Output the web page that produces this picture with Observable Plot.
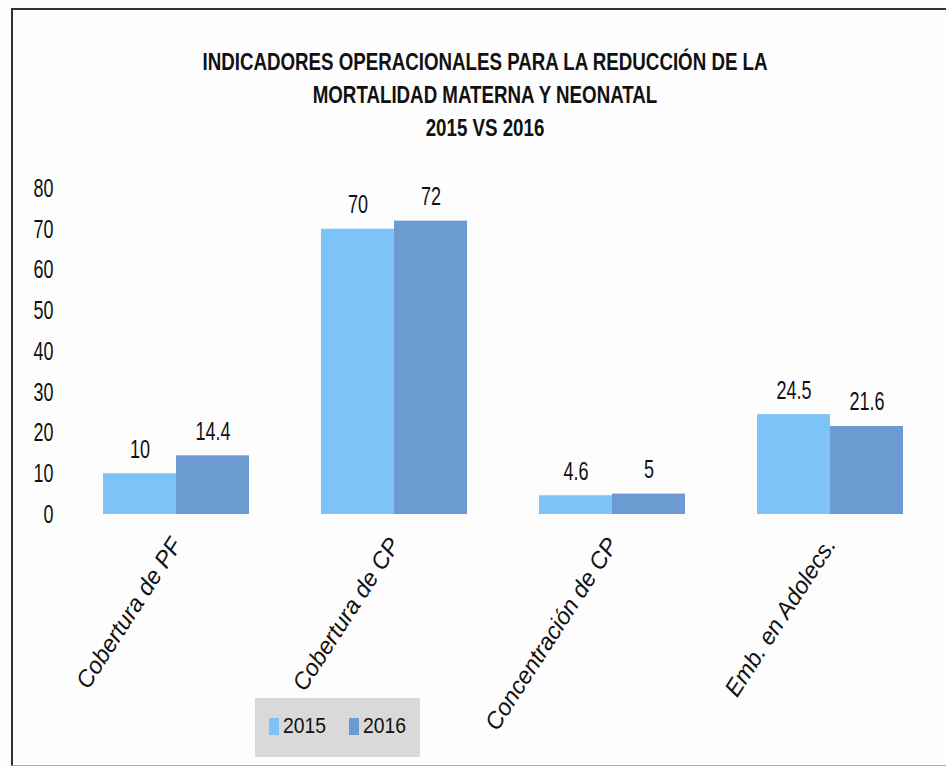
<!DOCTYPE html>
<html>
<head>
<meta charset="utf-8">
<script src="https://cdn.jsdelivr.net/npm/d3@7"></script>
<script src="https://cdn.jsdelivr.net/npm/@observablehq/plot@0.6"></script>
<style>
  html, body { margin: 0; padding: 0; background: #ffffff; }
  #wrap { position: relative; width: 946px; height: 768px; background: #fdfdfd; overflow: hidden;
          font-family: "Liberation Sans", Arial, sans-serif; }
  #frame { position: absolute; left: 11px; top: 8px; width: 940px; height: 758px;
           border-left: 2px solid #333; border-top: 2px solid #333; border-bottom: 1px solid #aaa; box-sizing: border-box; }
  #title { position: absolute; left: 24px; width: 922px; top: 45px; text-align: center;
           font-weight: bold; font-size: 24px; line-height: 33px; color: #111; transform-origin: 461px 0; white-space: nowrap; }
  #chart { position: absolute; left: 0; top: 0; }
  #legend { position: absolute; left: 255px; top: 698px; width: 165px; height: 59px; background: #d9d9d9;
            font-size: 22px; color: #111; }
  .sw { position: absolute; top: 20px; width: 10px; height: 17px; }
  .lt { position: absolute; top: 15px; line-height: 26px; transform: scaleX(0.88); transform-origin: 0 0; }
</style>
</head>
<body>
<div id="wrap">
  <div id="frame"></div>
  <div id="title"></div>
  <div id="chart"></div>
  <div id="legend"></div>
</div>
<script>
const titleLines = ["INDICADORES OPERACIONALES PARA LA REDUCCIÓN DE LA", "MORTALIDAD MATERNA Y NEONATAL", "2015 VS 2016"];
const categories = ["Cobertura de PF", "Cobertura de CP", "Concentración de CP", "Emb. en Adolecs."];
const years = ["2015", "2016"];
const values2015 = [10, 70, 4.6, 24.5];
const values2016 = [14.4, 72, 5, 21.6];
const colors = ["#7dc3f7", "#6b9bd1"];
const yTicks = [0, 10, 20, 30, 40, 50, 60, 70, 80];

// title, condensed horizontally to match the narrow lettering
const titleEl = document.getElementById("title");
titleLines.forEach(line => {
  const d = document.createElement("div");
  const s = document.createElement("span");
  s.textContent = line;
  d.appendChild(s);
  titleEl.appendChild(d);
});
const firstW = titleEl.querySelector("span").getBoundingClientRect().width;
titleEl.style.transform = `scaleX(${(565 / firstW).toFixed(3)})`;

const data = [];
categories.forEach((c, i) => {
  data.push({category: c, year: years[0], value: values2015[i]});
  data.push({category: c, year: years[1], value: values2016[i]});
});

const font = '"Liberation Sans", Arial, sans-serif';

const chart = Plot.plot({
  width: 946,
  height: 768,
  marginLeft: 66,
  marginRight: 6,
  marginTop: 188,
  marginBottom: 254,
  style: {background: "transparent", fontFamily: font, color: "#111"},
  fx: {domain: categories, paddingInner: 0.33, paddingOuter: 0.165, label: null},
  x: {domain: years, padding: 0, axis: null},
  y: {domain: [0, 80], label: null},
  color: {domain: years, range: colors},
  marks: [
    Plot.barY(data, {fx: "category", x: "year", y: "value", fill: "year"}),
    Plot.text(data, {fx: "category", x: "year", y: "value", text: d => String(d.value), dy: -24,
      fontSize: 25, fill: "#111"}),
    Plot.axisY({ticks: yTicks, tickSize: 0, tickPadding: 50, fontSize: 26, tickFormat: d => String(d), label: null}),
    Plot.axisFx({anchor: "bottom", tickSize: 0, tickPadding: 26, tickRotate: -57, fontSize: 23.5, fontStyle: "italic", label: null})
  ]
});
document.getElementById("chart").appendChild(chart);

// condense number labels horizontally about their anchor point (the reference lettering is tall and narrow)
function squeeze(sel, s) {
  chart.querySelectorAll(sel).forEach(t => {
    try {
      let ax = 0, ay = 0;
      const m = t.transform && t.transform.baseVal.consolidate();
      if (m) { ax += m.matrix.e; ay += m.matrix.f; }
      if (t.x && t.x.baseVal.numberOfItems) ax += t.x.baseVal.getItem(0).value;
      if (t.y && t.y.baseVal.numberOfItems) ay += t.y.baseVal.getItem(0).value;
      const g = document.createElementNS("http://www.w3.org/2000/svg", "g");
      g.setAttribute("transform", `translate(${ax},${ay}) scale(${s},1) translate(${-ax},${-ay})`);
      t.parentNode.insertBefore(g, t);
      g.appendChild(t);
    } catch (e) { /* leave text as is */ }
  });
}
squeeze('g[aria-label="text"] text', 0.72);
squeeze('g[aria-label="y-axis tick label"] text', 0.69);

const leg = document.getElementById("legend");
const swX = [14, 94], txX = [28, 108];
years.forEach((y, i) => {
  const s = document.createElement("div");
  s.className = "sw"; s.style.left = swX[i] + "px"; s.style.background = colors[i];
  leg.appendChild(s);
  const t = document.createElement("div");
  t.className = "lt"; t.style.left = txX[i] + "px"; t.textContent = y;
  leg.appendChild(t);
});
</script>
</body>
</html>
